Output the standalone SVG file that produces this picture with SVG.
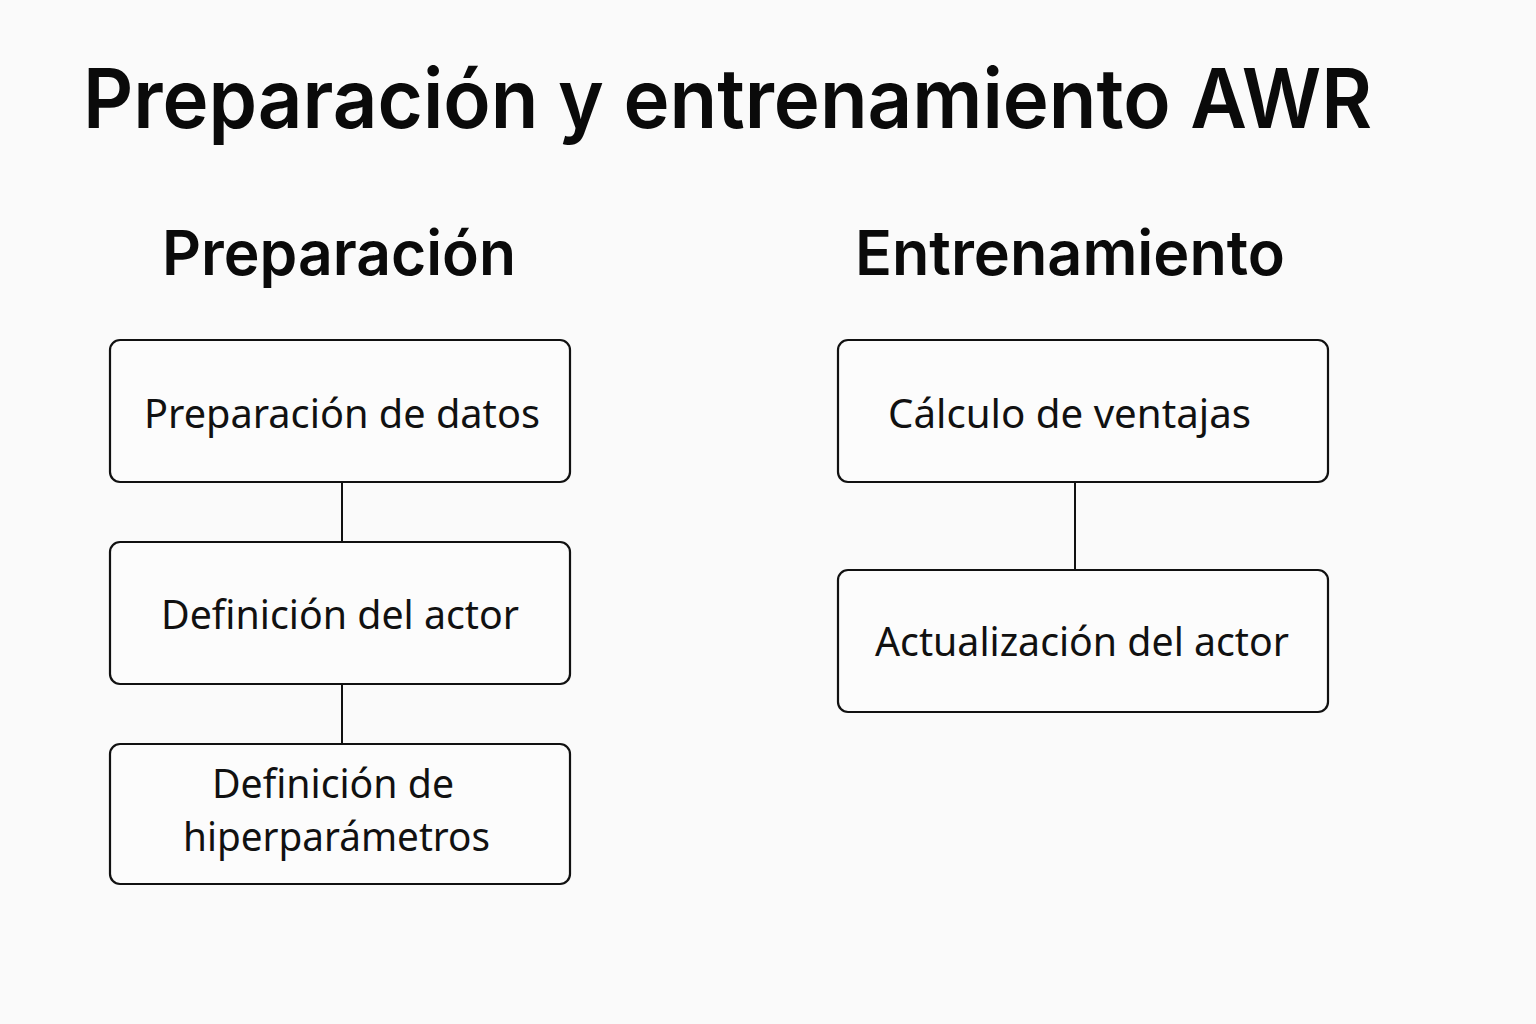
<svg xmlns="http://www.w3.org/2000/svg" width="1536" height="1024" viewBox="0 0 1536 1024">
<style>
text{font-family:"Noto Sans","Liberation Sans",sans-serif;fill:#111}
.title{font-family:Inter,"Noto Sans",sans-serif;font-size:82px;font-weight:600;fill:#0a0a0a}
.head{font-family:Inter,"Noto Sans",sans-serif;font-size:62px;font-weight:600;fill:#0a0a0a}
.lbl{font-size:40px}
.box{fill:#fcfcfc;stroke:#111;stroke-width:2.2}
.conn line{stroke:#111;stroke-width:2}
</style>
<rect width="1536" height="1024" fill="#fafafa"/>
<text class="title" x="83" y="128" textLength="1289" lengthAdjust="spacingAndGlyphs">Preparación y entrenamiento AWR</text>
<text class="head" x="162" y="275" textLength="354" lengthAdjust="spacingAndGlyphs">Preparación</text>
<text class="head" x="855" y="275" textLength="430" lengthAdjust="spacingAndGlyphs">Entrenamiento</text>
<g class="conn">
<line x1="342" y1="482" x2="342" y2="542"/>
<line x1="342" y1="684" x2="342" y2="744"/>
<line x1="1075" y1="482" x2="1075" y2="570"/>
</g>
<g id="n1"><rect class="box" x="110" y="340" width="460" height="142" rx="10"/><text class="lbl" x="144" y="428" textLength="396" lengthAdjust="spacingAndGlyphs">Preparación de datos</text></g>
<g id="n2"><rect class="box" x="110" y="542" width="460" height="142" rx="10"/><text class="lbl" x="161" y="629" textLength="358" lengthAdjust="spacingAndGlyphs">Definición del actor</text></g>
<g id="n3"><rect class="box" x="110" y="744" width="460" height="140" rx="10"/><text class="lbl" x="212" y="798" textLength="242" lengthAdjust="spacingAndGlyphs">Definición de</text><text class="lbl" x="183" y="851" textLength="307" lengthAdjust="spacingAndGlyphs">hiperparámetros</text></g>
<g id="n4"><rect class="box" x="838" y="340" width="490" height="142" rx="10"/><text class="lbl" x="888" y="428" textLength="363" lengthAdjust="spacingAndGlyphs">Cálculo de ventajas</text></g>
<g id="n5"><rect class="box" x="838" y="570" width="490" height="142" rx="10"/><text class="lbl" x="875" y="656" textLength="414" lengthAdjust="spacingAndGlyphs">Actualización del actor</text></g>
</svg>
